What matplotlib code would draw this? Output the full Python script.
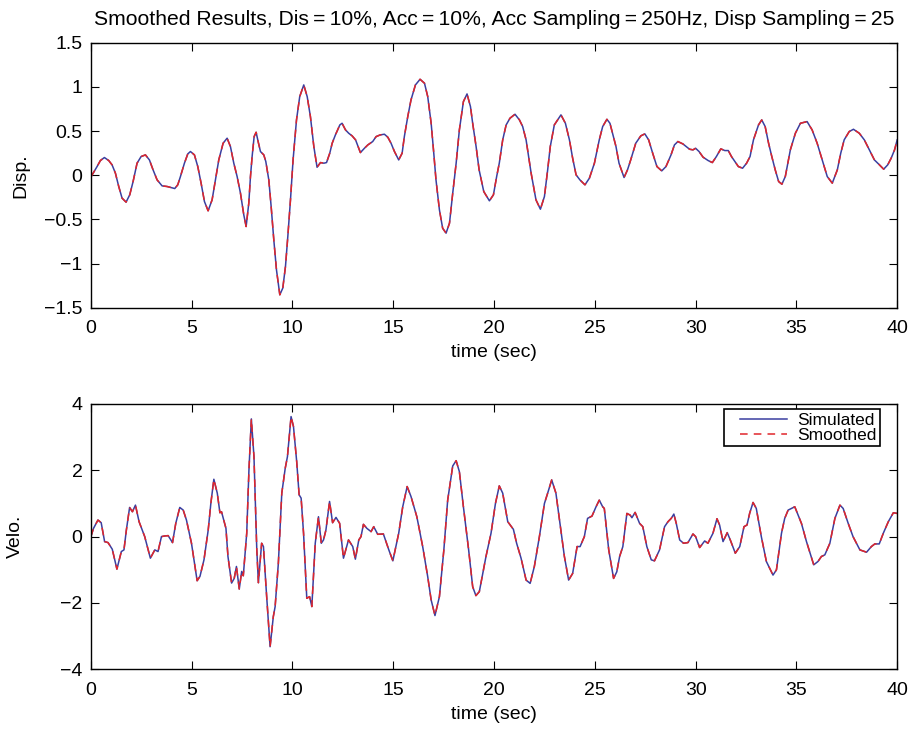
import numpy as np
import matplotlib
matplotlib.use('Agg')
import matplotlib.pyplot as plt
import matplotlib.ticker as ticker
from matplotlib.lines import Line2D
from matplotlib.legend_handler import HandlerLine2D

plt.rcParams['font.family'] = ['Liberation Sans', 'DejaVu Sans']
plt.rcParams['axes.unicode_minus'] = True

# Displacement record
disp_t = [0.0, 0.306, 0.471, 0.67, 0.885, 1.05, 1.216, 1.381, 1.547, 1.745, 1.927, 2.093,
          2.29, 2.49, 2.705, 2.903, 3.085, 3.284, 3.532, 3.78, 4.028, 4.16, 4.309, 4.442,
          4.64, 4.806, 4.938, 5.136, 5.302, 5.467, 5.633, 5.815, 6.013, 6.179, 6.344,
          6.559, 6.758, 6.923, 7.089, 7.254, 7.42, 7.585, 7.701, 7.833, 7.916, 7.998,
          8.098, 8.197, 8.296, 8.412, 8.577, 8.677, 8.826, 8.942, 9.074, 9.206, 9.372,
          9.52, 9.653, 9.769, 9.901, 10.03, 10.2, 10.36, 10.56, 10.73, 10.89, 11.06,
          11.22, 11.39, 11.56, 11.69, 11.85, 11.97, 12.13, 12.35, 12.46, 12.63, 12.79,
          12.96, 13.13, 13.37, 13.57, 13.74, 13.98, 14.15, 14.35, 14.56, 14.73, 14.89,
          15.06, 15.27, 15.44, 15.55, 15.72, 15.88, 16.1, 16.33, 16.55, 16.71, 16.88,
          17.01, 17.12, 17.29, 17.45, 17.62, 17.79, 17.95, 18.12, 18.28, 18.48, 18.66,
          18.83, 18.94, 19.11, 19.26, 19.49, 19.77, 19.97, 20.13, 20.26, 20.43, 20.6,
          20.79, 21.04, 21.26, 21.42, 21.59, 21.84, 22.08, 22.3, 22.5, 22.66, 22.79,
          22.99, 23.32, 23.54, 23.74, 23.9, 24.07, 24.26, 24.51, 24.73, 24.98, 25.22,
          25.39, 25.6, 25.75, 25.88, 26.05, 26.2, 26.45, 26.62, 26.78, 27.03, 27.28,
          27.48, 27.67, 27.87, 28.08, 28.32, 28.53, 28.78, 28.95, 29.12, 29.37, 29.7,
          29.87, 30.0, 30.17, 30.37, 30.62, 30.83, 31.03, 31.25, 31.45, 31.62, 31.78,
          31.95, 32.12, 32.33, 32.53, 32.7, 32.87, 33.12, 33.28, 33.45, 33.62, 33.78,
          33.95, 34.12, 34.28, 34.45, 34.7, 34.95, 35.2, 35.53, 35.78, 36.03, 36.28,
          36.53, 36.78, 37.03, 37.2, 37.37, 37.62, 37.83, 38.12, 38.37, 38.62, 38.87,
          39.12, 39.33, 39.53, 39.7, 39.87, 40.0]
disp_sim = [-0.02, 0.098, 0.166, 0.2, 0.166, 0.117, 0.023, -0.128, -0.26, -0.305, -0.222,
            -0.072, 0.136, 0.211, 0.23, 0.173, 0.06, -0.053, -0.121, -0.128, -0.143,
            -0.151, -0.109, -0.015, 0.136, 0.241, 0.268, 0.23, 0.098, -0.09, -0.298,
            -0.403, -0.279, -0.053, 0.173, 0.362, 0.419, 0.324, 0.136, -0.015, -0.204,
            -0.449, -0.581, -0.317, -0.015, 0.211, 0.437, 0.486, 0.381, 0.268, 0.23,
            0.155, -0.053, -0.354, -0.732, -1.071, -1.354, -1.278, -1.033, -0.694,
            -0.279, 0.173, 0.626, 0.89, 1.022, 0.89, 0.664, 0.324, 0.09, 0.143, 0.136,
            0.143, 0.249, 0.362, 0.456, 0.569, 0.588, 0.513, 0.475, 0.445, 0.4, 0.256,
            0.305, 0.343, 0.381, 0.437, 0.456, 0.464, 0.43, 0.362, 0.268, 0.173, 0.249,
            0.437, 0.664, 0.852, 1.022, 1.086, 1.041, 0.89, 0.588, 0.249, -0.053, -0.392,
            -0.6, -0.656, -0.543, -0.204, 0.136, 0.513, 0.833, 0.92, 0.777, 0.588, 0.324,
            0.06, -0.185, -0.29, -0.222, -0.015, 0.136, 0.4, 0.569, 0.645, 0.69, 0.626,
            0.551, 0.4, 0.023, -0.279, -0.385, -0.241, 0.06, 0.324, 0.569, 0.683, 0.588,
            0.4, 0.192, 0.004, -0.053, -0.109, -0.034, 0.136, 0.4, 0.551, 0.633, 0.588,
            0.475, 0.324, 0.136, -0.026, 0.06, 0.173, 0.362, 0.445, 0.468, 0.4, 0.249,
            0.098, 0.049, 0.098, 0.23, 0.343, 0.381, 0.354, 0.294, 0.287, 0.305, 0.268,
            0.204, 0.166, 0.143, 0.211, 0.298, 0.279, 0.279, 0.211, 0.155, 0.098, 0.079,
            0.136, 0.211, 0.4, 0.569, 0.626, 0.551, 0.362, 0.211, 0.06, -0.072, -0.102,
            -0.015, 0.287, 0.475, 0.588, 0.607, 0.513, 0.362, 0.173, -0.015, -0.09, 0.06,
            0.249, 0.4, 0.494, 0.52, 0.475, 0.4, 0.287, 0.173, 0.117, 0.068, 0.117, 0.192,
            0.287, 0.4]
disp_smooth = list(disp_sim)  # smoothed curve sits on top of the simulated one

# Velocity record
velo_t = [0.0, 0.13, 0.35, 0.51, 0.68, 0.85, 1.06, 1.29, 1.51, 1.64, 1.76, 1.92, 2.06,
          2.21, 2.39, 2.67, 2.95, 3.17, 3.33, 3.5, 3.66, 3.83, 4.05, 4.21, 4.41, 4.58,
          4.74, 4.99, 5.27, 5.41, 5.61, 5.82, 5.95, 6.1, 6.27, 6.4, 6.48, 6.7, 6.8,
          6.98, 7.11, 7.22, 7.36, 7.48, 7.56, 7.73, 7.84, 7.96, 8.09, 8.23, 8.31, 8.47,
          8.56, 8.72, 8.89, 9.05, 9.14, 9.3, 9.47, 9.64, 9.75, 9.93, 10.05, 10.21,
          10.33, 10.43, 10.55, 10.71, 10.85, 10.96, 11.13, 11.29, 11.43, 11.54, 11.66,
          11.84, 11.99, 12.16, 12.34, 12.53, 12.78, 12.99, 13.12, 13.29, 13.4, 13.52,
          13.69, 13.9, 14.03, 14.23, 14.51, 14.78, 14.98, 15.27, 15.47, 15.69, 15.88,
          16.17, 16.46, 16.71, 16.88, 17.07, 17.29, 17.51, 17.7, 17.95, 18.12, 18.28,
          18.48, 18.74, 18.94, 19.1, 19.27, 19.6, 19.85, 20.07, 20.26, 20.43, 20.68,
          20.96, 21.12, 21.34, 21.59, 21.79, 22.0, 22.25, 22.5, 22.66, 22.86, 23.07,
          23.27, 23.49, 23.7, 23.9, 24.12, 24.27, 24.48, 24.64, 24.86, 25.06, 25.22,
          25.39, 25.47, 25.69, 25.93, 26.09, 26.23, 26.39, 26.59, 26.75, 26.84, 27.0,
          27.22, 27.38, 27.58, 27.8, 27.96, 28.21, 28.46, 28.63, 28.79, 28.92, 29.04,
          29.21, 29.4, 29.62, 29.87, 30.0, 30.2, 30.45, 30.61, 30.86, 31.06, 31.19,
          31.36, 31.57, 31.72, 31.97, 32.19, 32.4, 32.55, 32.68, 32.85, 33.01, 33.26,
          33.51, 33.84, 34.01, 34.26, 34.42, 34.59, 34.92, 35.25, 35.5, 35.86, 36.07,
          36.24, 36.41, 36.66, 36.91, 37.16, 37.32, 37.57, 37.81, 38.15, 38.48, 38.72,
          38.89, 39.11, 39.31, 39.56, 39.81, 40.0]
velo_sim = [0.0, 0.25, 0.5, 0.42, -0.15, -0.18, -0.38, -0.98, -0.45, -0.4, 0.2, 0.88,
            0.75, 0.95, 0.45, 0.0, -0.65, -0.4, -0.45, 0.0, 0.02, 0.03, -0.18, 0.4, 0.88,
            0.8, 0.5, -0.2, -1.33, -1.2, -0.7, 0.2, 1.0, 1.73, 1.31, 0.72, 0.75, 0.25,
            -0.6, -1.4, -1.26, -0.9, -1.58, -1.05, -1.18, 0.1, 2.0, 3.55, 2.41, -0.4,
            -1.39, -0.2, -0.3, -1.81, -3.32, -2.41, -2.11, -0.8, 1.31, 2.06, 2.41, 3.62,
            3.32, 2.26, 1.26, 1.16, 0.1, -1.86, -1.81, -2.11, -0.2, 0.6, -0.2, -0.1, 0.2,
            1.06, 0.42, 0.58, 0.4, -0.65, -0.1, -0.3, -0.68, -0.1, 0.0, 0.37, 0.25, 0.15,
            0.3, 0.07, 0.08, -0.4, -0.73, 0.1, 0.9, 1.51, 1.21, 0.6, -0.3, -1.21, -1.91,
            -2.38, -1.81, -0.4, 1.1, 2.13, 2.29, 1.96, 0.9, -0.4, -1.51, -1.78, -1.66,
            -0.6, 0.1, 1.0, 1.53, 1.31, 0.45, 0.22, -0.2, -0.65, -1.31, -1.41, -0.9, 0.0,
            1.0, 1.31, 1.71, 1.31, 0.4, -0.6, -1.31, -1.11, -0.3, -0.3, 0.0, 0.55, 0.62,
            0.9, 1.1, 0.9, 0.85, -0.4, -1.26, -1.06, -0.6, -0.3, 0.7, 0.65, 0.57, 0.73,
            0.4, 0.3, -0.3, -0.7, -0.73, -0.4, 0.3, 0.45, 0.55, 0.68, 0.4, -0.1, -0.2,
            -0.18, 0.08, 0.0, -0.33, -0.13, -0.2, 0.1, 0.54, 0.35, -0.15, 0.12, -0.1,
            -0.5, -0.3, 0.3, 0.35, 0.7, 1.03, 0.85, 0.0, -0.75, -1.16, -1.0, 0.1, 0.55,
            0.8, 0.9, 0.4, -0.15, -0.85, -0.75, -0.6, -0.55, -0.2, 0.55, 0.95, 0.85, 0.4,
            0.0, -0.4, -0.47, -0.3, -0.22, -0.22, 0.1, 0.45, 0.72, 0.7]
velo_smooth = list(velo_sim)

title = ('Smoothed Results, Dis\u2009=\u200910%, Acc\u2009=\u200910%, '
         'Acc Sampling\u2009=\u2009250Hz, Disp Sampling\u2009=\u200925')

blue = '#3a3fa0'
red = '#e0262b'
fs = 14

fig = plt.figure(figsize=(9.09, 7.30), dpi=100)
ax1 = fig.add_axes([0.100, 0.5785, 0.887, 0.363])
ax2 = fig.add_axes([0.100, 0.0832, 0.887, 0.3634])


def style_axes(ax):
    ax.tick_params(direction='in', top=True, right=True, length=6, width=0.8,
                   labelsize=fs, pad=6)
    ax.tick_params(axis='x', pad=9)
    for s in ax.spines.values():
        s.set_linewidth(1.0)
    ax.set_xlim(0, 40)
    ax.xaxis.set_major_locator(ticker.MultipleLocator(5))
    ax.set_xlabel('time (sec)', fontsize=fs, labelpad=5)


ax1.plot(disp_t, disp_sim, color=blue, lw=1.1, label='Simulated')
ax1.plot(disp_t, disp_smooth, color=red, lw=1.1, ls=(0, (5, 4)), label='Smoothed')
style_axes(ax1)
ax1.set_ylim(-1.5, 1.5)
ax1.yaxis.set_major_locator(ticker.MultipleLocator(0.5))
ax1.yaxis.set_major_formatter(ticker.FuncFormatter(
    lambda v, p: ('%g' % v).replace('-', '\u2212')))
ax1.set_ylabel('Disp.', fontsize=fs)
ax1.yaxis.set_label_coords(-0.076, 0.5)
ax1.set_title(title, fontsize=15.2, pad=13)

ax2.plot(velo_t, velo_sim, color=blue, lw=1.1, label='Simulated')
ax2.plot(velo_t, velo_smooth, color=red, lw=1.1, ls=(0, (5, 4)), label='Smoothed')
style_axes(ax2)
ax2.set_ylim(-4, 4)
ax2.yaxis.set_major_locator(ticker.MultipleLocator(2))
ax2.set_ylabel('Velo.', fontsize=fs)
ax2.yaxis.set_label_coords(-0.083, 0.5)
leg = ax2.legend(loc='upper right', bbox_to_anchor=(0.979, 0.981), fontsize=12.5,
                 frameon=True, fancybox=False, edgecolor='black', handlelength=3.4,
                 borderpad=0.2, labelspacing=0.0, handletextpad=0.6,
                 borderaxespad=0.0, framealpha=1.0,
                 handler_map={Line2D: HandlerLine2D(xpad=0.7)})
leg.get_frame().set_linewidth(1.2)

fig.savefig('out.png', dpi=100)
